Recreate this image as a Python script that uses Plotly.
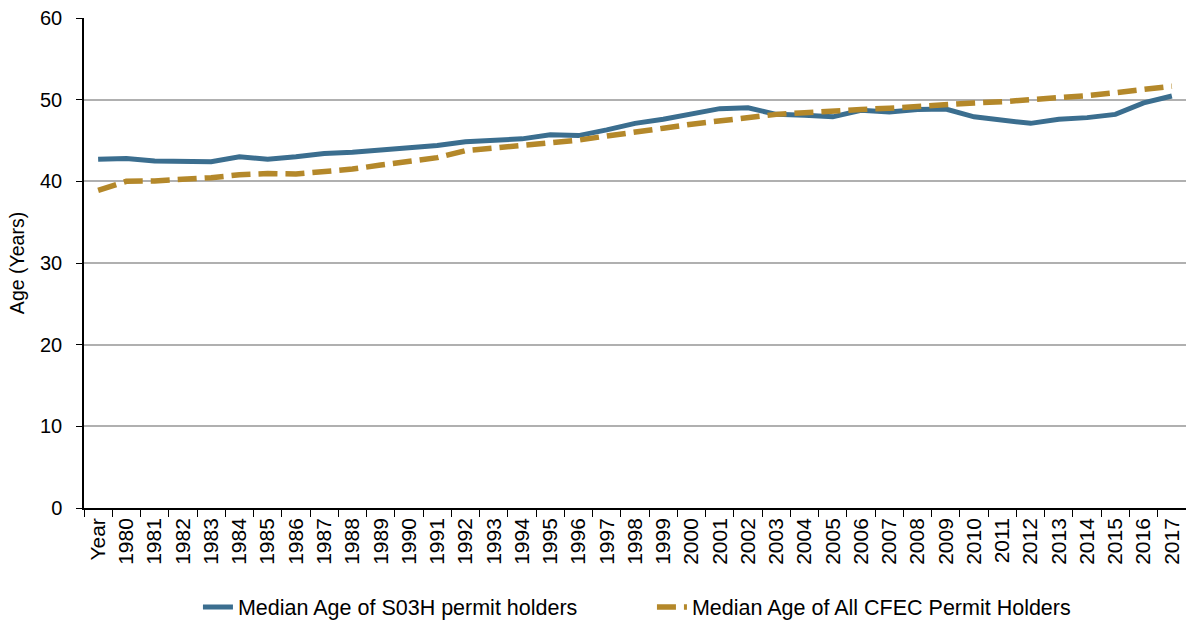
import plotly.graph_objects as go

categories = ["Year"] + [str(y) for y in range(1980, 2018)]

s03h_median_age = [
    42.7, 42.8, 42.5, 42.45, 42.4, 43.0, 42.7, 43.0, 43.4, 43.55,
    43.8, 44.1, 44.4, 44.85, 45.05, 45.2, 45.7, 45.6, 46.3, 47.1,
    47.6, 48.2, 48.9, 49.0, 48.2, 48.1, 47.9, 48.7, 48.5, 48.8,
    48.85, 47.9, 47.5, 47.1, 47.6, 47.8, 48.2, 49.6, 50.45,
]

cfec_median_age = [
    38.9, 40.0, 40.05, 40.2, 40.45, 40.8, 40.95, 40.9, 41.15, 41.5,
    42.0, 42.5, 42.9, 43.75, 44.1, 44.3, 44.65, 45.05, 45.55, 45.95,
    46.5, 47.0, 47.4, 47.9, 48.2, 48.4, 48.65, 48.8, 48.95, 49.2,
    49.45, 49.6, 49.75, 49.95, 50.25, 50.5, 50.85, 51.2, 51.65,
]

font_family = "Liberation Sans, Arial, sans-serif"

fig = go.Figure()
fig.add_trace(go.Scatter(
    x=categories, y=s03h_median_age, mode="lines",
    name="Median Age of S03H permit holders",
    line=dict(color="#3b6e8f", width=5),
))
fig.add_trace(go.Scatter(
    x=categories, y=cfec_median_age, mode="lines",
    name="Median Age of All CFEC Permit Holders",
    line=dict(color="#b4882a", width=5.5, dash="19px,8px"),
))

fig.update_layout(
    width=1186, height=622,
    margin=dict(l=84, r=0, t=18, b=114, autoexpand=False),
    paper_bgcolor="white", plot_bgcolor="white",
    font=dict(family=font_family, size=20, color="black"),
    showlegend=True,
    legend=dict(orientation="h", x=0.1034, xanchor="left", y=-0.202, yanchor="middle",
                font=dict(size=21.5), entrywidth=409, entrywidthmode="pixels",
                tracegroupgap=0, bgcolor="rgba(0,0,0,0)"),
)
fig.update_xaxes(
    type="category", range=[-0.5, len(categories) - 0.5],
    tickson="boundaries", ticks="outside", ticklen=7,
    tickcolor="black", showline=True, linecolor="black", linewidth=1.5,
    showgrid=False, tickangle=-90, tickfont=dict(size=21), automargin=False,
)
fig.update_yaxes(
    range=[0, 60], dtick=10, ticks="outside", ticklen=6, tickcolor="black",
    showline=True, linecolor="black", linewidth=1.5,
    showgrid=True, gridcolor="#b0b0b0", gridwidth=1.5,
    zeroline=False, tickfont=dict(size=20), automargin=False,
    ticklabelstandoff=10,
    title=dict(text="Age (Years)", font=dict(size=19.5), standoff=10),
)

fig.write_html("out.html", config={"displayModeBar": False},
               post_script="document.body.style.margin='0px';")
